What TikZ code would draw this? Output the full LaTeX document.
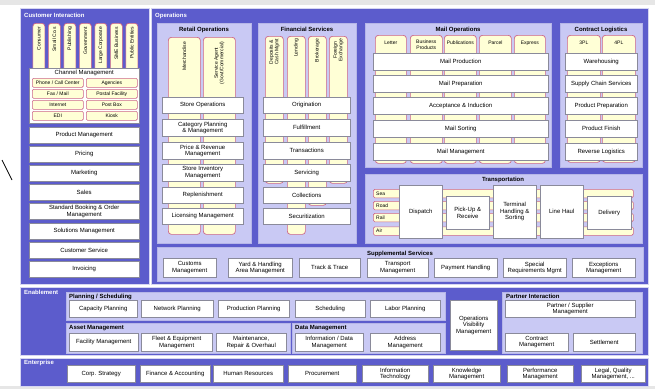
\documentclass[tikz,border=0pt]{standalone}
\usepackage{fontspec}
\setmainfont{Liberation Sans}
\usetikzlibrary{calc}

\definecolor{dk}{HTML}{5C5CCC}
\definecolor{lt}{HTML}{C9C9F4}
\definecolor{yl}{HTML}{FFFFD6}
\definecolor{pk}{HTML}{CC6688}
\definecolor{gr}{HTML}{8A8A9A}
\definecolor{bgline}{HTML}{E6E6E6}

\newcommand\txn{\fontsize{6}{6.5}\selectfont}
\newcommand\txs{\fontsize{5}{5.5}\selectfont}
\newcommand\txb{\fontsize{6}{6.5}\selectfont\bfseries}

\tikzset{
  band/.style={fill=dk, draw=white!75!dk, line width=0.8pt},
  panel/.style={fill=lt, draw=white!55!dk, line width=0.4pt},
  pillar/.style={fill=yl, draw=pk, line width=0.7pt, rounded corners=3pt, inner sep=0pt},
  wbox/.style={fill=white, draw=gr, line width=0.4pt, font=\txn, align=center, inner sep=0.5pt},
  cbox/.style={fill=yl, draw=pk, line width=0.6pt, rounded corners=1.2pt, font=\txs, align=center, inner sep=0.3pt},
  lane/.style={fill=yl, draw=pk, line width=0.6pt, rounded corners=1.5pt, inner sep=0pt},
  ttl/.style={font=\txb, inner sep=0pt},
  wttl/.style={font=\txb, text=white, inner sep=0pt, anchor=west},
  plab/.style={font=\txs, align=center, inner sep=0pt},
}

% box from corner (x1,y1) to corner (x2,y2), y counted downwards
\newcommand\bx[7]{%
  \pgfmathsetmacro\bxw{#5-#3}\pgfmathsetmacro\bxh{#6-#4}%
  \node[#1, minimum width=\bxw pt, minimum height=\bxh pt, anchor=north west] (#2) at (#3,#4) {#7};}

% vertical pillar with rotated caption near its top
\newcommand\pil[7]{%
  \bx{pillar}{#1}{#2}{#3}{#4}{#5}{}%
  \node[plab, rotate=90, anchor=east] (#1t) at ([yshift=-#6pt]#1.north) {#7};}

\begin{document}
\begin{tikzpicture}[x=1pt, y=-1pt]
\useasboundingbox (0,0) rectangle (655,389);
\fill[white] (0,0) rectangle (655,389);
\fill[bgline] (0,0) rectangle (655,5);
\fill[bgline] (0,386) rectangle (655,389);

% stray pen stroke at the left margin
\coordinate (s1) at (2,160);
\coordinate (s2) at (12,180);
\draw[line width=0.8pt] (s1) -- (s2);

%%%%%%%%%%%%%%%% main bands
\bx{band}{ci}{20}{8}{149}{284}{}
\bx{band}{ops}{151}{8}{648}{284}{}
\bx{band}{ena}{20}{287}{648}{355}{}
\bx{band}{ent}{20}{358}{648}{386}{}
\node[wttl] (citl) at (24,15.5) {Customer Interaction};
\node[wttl] (opstl) at (155,15.5) {Operations};
\node[wttl] (enatl) at (24,292) {Enablement};
\node[wttl] (enttl) at (24,362.5) {Enterprise};

%%%%%%%%%%%%%%%% Customer Interaction
\pil{c1}{32.5}{23}{44.5}{72}{4}{Consumer}
\pil{c2}{48}{23}{60}{72}{4}{Small Co.s}
\pil{c3}{63.5}{23}{75.5}{72}{4}{Publishing}
\pil{c4}{79}{23}{91}{72}{4}{Government}
\pil{c5}{94.5}{23}{106.5}{72}{4}{Large Corporate}
\pil{c6}{110}{23}{122}{72}{4}{SME Business}
\pil{c7}{125.5}{23}{137.5}{72}{4}{Public Entities}

\bx{wbox}{chan}{29}{68}{139}{123}{}
\node[font=\txn, inner sep=0pt] (chantl) at ([yshift=-5pt]chan.north) {Channel Management};
\bx{cbox}{ch1}{32}{78}{83}{87}{Phone / Call Center}
\bx{cbox}{ch2}{86}{78}{137}{87}{Agencies}
\bx{cbox}{ch3}{32}{89}{83}{98}{Fax / Mail}
\bx{cbox}{ch4}{86}{89}{137}{98}{Postal Facility}
\bx{cbox}{ch5}{32}{100}{83}{109}{Internet}
\bx{cbox}{ch6}{86}{100}{137}{109}{Post Box}
\bx{cbox}{ch7}{32}{111}{83}{120}{EDI}
\bx{cbox}{ch8}{86}{111}{137}{120}{Kiosk}

\bx{wbox}{cb1}{29}{126.5}{139}{142.5}{Product Management}
\bx{wbox}{cb2}{29}{145.7}{139}{161.7}{Pricing}
\bx{wbox}{cb3}{29}{164.9}{139}{180.9}{Marketing}
\bx{wbox}{cb4}{29}{184.1}{139}{200.1}{Sales}
\bx{wbox}{cb5}{29}{203.3}{139}{219.3}{Standard Booking \& Order\\Management}
\bx{wbox}{cb6}{29}{222.5}{139}{238.5}{Solutions Management}
\bx{wbox}{cb7}{29}{241.7}{139}{257.7}{Customer Service}
\bx{wbox}{cb8}{29}{260.9}{139}{276.9}{Invoicing}

%%%%%%%%%%%%%%%% Retail Operations
\bx{panel}{ret}{157}{23}{251}{243}{}
\node[ttl] (rettl) at (204,29.5) {Retail Operations};
\pil{r1}{168}{37}{200}{234}{5}{Merchandise}
\pil{r2}{203}{37}{235}{234}{5}{Service Agent\\(Govt/Commercial)}
\bx{wbox}{rb1}{162}{97}{243}{113}{Store Operations}
\bx{wbox}{rb2}{162}{119}{243}{136}{Category Planning\\\& Management}
\bx{wbox}{rb3}{162}{142}{243}{159}{Price \& Revenue\\Management}
\bx{wbox}{rb4}{162}{164}{243}{181}{Store Inventory\\Management}
\bx{wbox}{rb5}{162}{187}{243}{203}{Replenishment}
\bx{wbox}{rb6}{162}{208}{243}{224}{Licensing Management}

%%%%%%%%%%%%%%%% Financial Services
\bx{panel}{fin}{258}{23}{356}{243}{}
\node[ttl] (fintl) at (307,29.5) {Financial Services};
\pil{f1}{265}{36}{283}{183}{3}{Deposits \&\\Cash Mgmt}
\pil{f2}{287}{36}{305}{234}{3}{Lending}
\pil{f3}{308}{36}{326}{205}{3}{Brokerage}
\pil{f4}{329}{36}{347}{183}{3}{Foreign\\Exchange}
\bx{wbox}{fb1}{263}{97}{350}{113}{Origination}
\bx{wbox}{fb2}{263}{119}{350}{136}{Fulfillment}
\bx{wbox}{fb3}{263}{142}{350}{159}{Transactions}
\bx{wbox}{fb4}{263}{164}{350}{181}{Servicing}
\bx{wbox}{fb5}{263}{187}{350}{203}{Collections}
\bx{wbox}{fb6}{263}{208}{350}{224}{Securitization}

%%%%%%%%%%%%%%%% Mail Operations
\bx{panel}{mail}{365}{23}{551}{167}{}
\node[ttl] (mailtl) at (458,29.5) {Mail Operations};
\bx{pillar}{m1}{375}{35}{406}{163}{}
\bx{pillar}{m2}{410}{35}{442}{163}{}
\bx{pillar}{m3}{444}{35}{476}{163}{}
\bx{pillar}{m4}{479}{35}{511}{163}{}
\bx{pillar}{m5}{514}{35}{545}{163}{}
\node[plab] (m1t) at ([yshift=-8pt]m1.north) {Letter};
\node[plab] (m2t) at ([yshift=-9.5pt]m2.north) {Business\\Products};
\node[plab] (m3t) at ([yshift=-8pt]m3.north) {Publications};
\node[plab] (m4t) at ([yshift=-8pt]m4.north) {Parcel};
\node[plab] (m5t) at ([yshift=-8pt]m5.north) {Express};
\bx{wbox}{mb1}{373}{53}{548}{70}{Mail Production}
\bx{wbox}{mb2}{373}{75}{548}{92}{Mail Preparation}
\bx{wbox}{mb3}{373}{97}{548}{114}{Acceptance \& Induction}
\bx{wbox}{mb4}{373}{120}{548}{137}{Mail Sorting}
\bx{wbox}{mb5}{373}{143}{548}{160}{Mail Management}

%%%%%%%%%%%%%%%% Contract Logistics
\bx{panel}{cl}{560}{23}{642}{167}{}
\node[ttl] (cltl) at (601,29.5) {Contract Logistics};
\bx{pillar}{k1}{567}{35}{600}{162}{}
\bx{pillar}{k2}{602}{35}{635}{162}{}
\node[plab] (k1t) at ([yshift=-8pt]k1.north) {3PL};
\node[plab] (k2t) at ([yshift=-8pt]k2.north) {4PL};
\bx{wbox}{kb1}{565}{53}{637}{70}{Warehousing}
\bx{wbox}{kb2}{565}{75}{637}{92}{Supply Chain Services}
\bx{wbox}{kb3}{565}{97}{637}{114}{Product Preparation}
\bx{wbox}{kb4}{565}{120}{637}{137}{Product Finish}
\bx{wbox}{kb5}{565}{143}{637}{160}{Reverse Logistics}

%%%%%%%%%%%%%%%% Transportation
\bx{panel}{tr}{365}{174}{642}{243}{}
\node[ttl] (trtl) at (503,180) {Transportation};
\bx{lane}{l1}{373}{189}{633}{197.5}{}
\bx{lane}{l2}{373}{201}{633}{209.5}{}
\bx{lane}{l3}{373}{213}{633}{221.5}{}
\bx{lane}{l4}{373}{226.5}{633}{235}{}
\node[plab, anchor=west] (l1t) at ([xshift=3pt]l1.west) {Sea};
\node[plab, anchor=west] (l2t) at ([xshift=3pt]l2.west) {Road};
\node[plab, anchor=west] (l3t) at ([xshift=3pt]l3.west) {Rail};
\node[plab, anchor=west] (l4t) at ([xshift=3pt]l4.west) {Air};
\bx{wbox}{tb1}{399}{185}{442}{238}{Dispatch}
\bx{wbox}{tb2}{446}{196}{489}{229}{Pick-Up \&\\Receive}
\bx{wbox}{tb3}{493}{185}{536}{238}{Terminal\\Handling \&\\Sorting}
\bx{wbox}{tb4}{540}{185}{583}{238}{Line Haul}
\bx{wbox}{tb5}{587}{196}{631}{229}{Delivery}

%%%%%%%%%%%%%%%% Supplemental Services
\bx{panel}{sup}{157}{247}{643}{281}{}
\node[ttl] (suptl) at (400,253.5) {Supplemental Services};
\bx{wbox}{sb1}{163}{258}{216}{277}{Customs\\Management}
\bx{wbox}{sb2}{228}{258}{292}{277}{Yard \& Handling\\Area Management}
\bx{wbox}{sb3}{299}{258}{360}{277}{Track \& Trace}
\bx{wbox}{sb4}{367}{258}{428}{277}{Transport\\Management}
\bx{wbox}{sb5}{434}{258}{497}{277}{Payment Handling}
\bx{wbox}{sb6}{503}{258}{566}{277}{Special\\Requirements Mgmt}
\bx{wbox}{sb7}{572}{258}{635}{277}{Exceptions\\Management}

%%%%%%%%%%%%%%%% Enablement
\bx{panel}{plan}{66}{292}{445}{320}{}
\node[ttl, anchor=west] (plantl) at (69,296.5) {Planning / Scheduling};
\bx{wbox}{pb1}{69}{300}{137}{317}{Capacity Planning}
\bx{wbox}{pb2}{141}{300}{213}{317}{Network Planning}
\bx{wbox}{pb3}{218}{300}{289}{317}{Production Planning}
\bx{wbox}{pb4}{295}{300}{365}{317}{Scheduling}
\bx{wbox}{pb5}{370}{300}{440}{317}{Labor Planning}

\bx{panel}{asset}{66}{323}{290}{353}{}
\node[ttl, anchor=west] (assettl) at (69,328) {Asset Management};
\bx{wbox}{ab1}{69}{333}{138}{351}{Facility Management}
\bx{wbox}{ab2}{141}{333}{212}{351}{Fleet \& Equipment\\Management}
\bx{wbox}{ab3}{216}{333}{286}{351}{Maintenance,\\Repair \& Overhaul}

\bx{panel}{data}{292}{323}{445}{353}{}
\node[ttl, anchor=west] (datatl) at (295,328) {Data Management};
\bx{wbox}{db1}{295}{333}{363}{351}{Information / Data\\Management}
\bx{wbox}{db2}{370}{333}{440}{351}{Address\\Management}

\bx{wbox}{ovm}{450}{300}{497}{350}{Operations\\Visibility\\Management}

\bx{panel}{part}{502}{292}{642}{353}{}
\node[ttl, anchor=west] (parttl) at (506,296.5) {Partner Interaction};
\bx{wbox}{ib1}{505}{300}{635}{317}{Partner / Supplier\\Management}
\bx{wbox}{ib2}{505}{333}{568}{351}{Contract\\Management}
\bx{wbox}{ib3}{573}{333}{635}{351}{Settlement}

%%%%%%%%%%%%%%%% Enterprise
\bx{wbox}{eb1}{67}{365}{135}{382}{Corp. Strategy}
\bx{wbox}{eb2}{140}{365}{210}{382}{Finance \& Accounting}
\bx{wbox}{eb3}{213}{365}{283}{382}{Human Resources}
\bx{wbox}{eb4}{288}{365}{356}{382}{Procurement}
\bx{wbox}{eb5}{362}{365}{428}{382}{Information\\Technology}
\bx{wbox}{eb6}{433}{365}{500}{382}{Knowledge\\Management}
\bx{wbox}{eb7}{507}{365}{573}{382}{Performance\\Management}
\bx{wbox}{eb8}{581}{365}{645}{382}{Legal, Quality\\Management, ...}
\end{tikzpicture}
\end{document}
